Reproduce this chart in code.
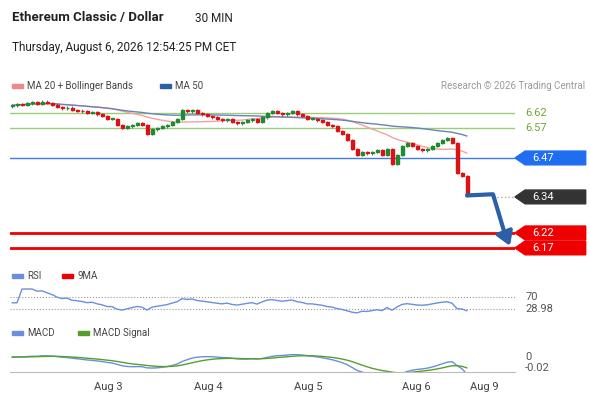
import numpy as np, pandas as pd, seaborn as sns, matplotlib
matplotlib.use("Agg")
import matplotlib.pyplot as plt
from matplotlib.patches import Polygon, Rectangle

closes = [6.645,6.65,6.648,6.652,6.655,6.65,6.658,6.653,6.648,
          6.64,6.635,6.638,6.63,6.628, 6.625,6.62,6.622,6.615, 6.61,6.60,6.6,
          6.58,6.57,6.575,6.58, 6.585,6.58,6.55,6.565,6.57, 6.575,6.58,6.59,6.6,
          6.63,6.625,6.63, 6.62,6.615,6.61,6.605, 6.6,6.595,6.6,6.59,
          6.585,6.59,6.595,6.6, 6.59,6.605,6.62,6.625, 6.62,6.615,6.62,6.625,
          6.615,6.61,6.6,6.6, 6.595,6.59,6.58,6.575, 6.56,6.55,6.53,6.5,
          6.48,6.49,6.485,6.49, 6.495,6.48,6.5,6.45, 6.48,6.51,6.52,6.51,
          6.5,6.495,6.5,6.51, 6.52,6.53,6.535,6.52, 6.42,6.41,6.345]
levels = [6.62, 6.57]
support_levels = [6.22, 6.17]
pivot = 6.47
last = 6.34
day_labels = ["Aug 3", "Aug 4", "Aug 5", "Aug 6", "Aug 9"]
day_pos = [19.2, 39.2, 59.2, 80.8, 94.4]

sns.set_style("white")
plt.rcParams['font.family'] = ['Roboto', 'DejaVu Sans']

c = pd.Series(closes)
o = c.shift(1).fillna(c.iloc[0] - 0.003)
idx = np.arange(len(c))
df = pd.DataFrame({"i": idx, "c": c, "ma20": c.rolling(20, min_periods=1).mean(),
                   "ma50": c.rolling(50, min_periods=1).mean()})

fig = plt.figure(figsize=(5.9, 4.0), dpi=100)
W, H = 590, 400
def ax_px(x0, y0, x1, y1):
    return fig.add_axes([x0/W, 1-y1/H, (x1-x0)/W, (y1-y0)/H])

ax = ax_px(10, 95, 515, 262)
ax.set_xlim(-0.4, 100.6); ax.set_ylim(6.123, 6.68)
for s in ax.spines.values(): s.set_visible(False)
ax.set_xticks([]); ax.set_yticks([])
for lv in levels:
    ax.axhline(lv, color="#9ccc7a", lw=1)
ax.axhline(pivot, color="#3d7be8", lw=1)
for lv in support_levels:
    ax.axhline(lv, color="#ee0000", lw=2)
sns.lineplot(data=df, x="i", y="ma20", ax=ax, color="#f4a0a0", lw=1)
sns.lineplot(data=df, x="i", y="ma50", ax=ax, color="#6a83b8", lw=1)
for i in idx:
    up = c[i] >= o[i]
    col = "#1e8c2e" if up else "#dd1111"
    lo, hi = min(o[i], c[i]), max(o[i], c[i])
    ax.vlines(i, lo - 0.004, hi + 0.004, color="#555", lw=0.6)
    ax.add_patch(Rectangle((i-0.3, lo), 0.6, max(hi-lo, 0.002), color=col, zorder=3))
ax.plot([len(c)-1, 96.2, 98.6], [c.iloc[-1], c.iloc[-1]+0.004, 6.215], color="#2b5fa8", lw=3, zorder=4)
ax.annotate("", xy=(99.8, 6.168), xytext=(98.3, 6.23),
            arrowprops=dict(arrowstyle="-|>,head_width=0.5,head_length=0.8", color="#2b5fa8", lw=3))
ax.plot([97, 100.6], [last, last], ls=":", color="#aaa", lw=1)
for lv in levels:
    ax.text(1.02, lv, f"{lv:.2f}", transform=ax.get_yaxis_transform(), color="#6aa834",
            fontsize=8, va="center")
def tag(y, col, txt):
    tr = ax.get_yaxis_transform()
    dy = 0.023
    poly = Polygon([(1.0, y), (1.02, y+dy), (1.14, y+dy), (1.14, y-dy), (1.02, y-dy)],
                   closed=True, transform=tr, color=col, clip_on=False)
    ax.add_patch(poly)
    ax.text(1.035, y, txt, transform=tr, color="white", fontsize=8, va="center")
tag(pivot, "#1f6ef0", f"{pivot:.2f}")
tag(last, "#333333", f"{last:.2f}")
for lv in support_levels:
    tag(lv, "#ee0000", f"{lv:.2f}")

# RSI
d = c.diff()
g = d.clip(lower=0).ewm(alpha=1/14, adjust=False).mean()
l = (-d.clip(upper=0)).ewm(alpha=1/14, adjust=False).mean()
rsi = 100 - 100/(1 + g/l.replace(0, np.nan))
rsi = rsi.fillna(50)
ax2 = ax_px(10, 285, 515, 318)
ax2.set_xlim(-0.4, 100.6); ax2.set_ylim(-2, 111)
for s in ax2.spines.values(): s.set_visible(False)
ax2.set_xticks([]); ax2.set_yticks([])
ax2.axhline(70, color="#999", ls=":", lw=0.8); ax2.axhline(28.98, color="#999", ls=":", lw=0.8)
sns.lineplot(x=idx, y=rsi.values, ax=ax2, color="#6a8fdc", lw=1)
ax2.text(1.02, 70, "70", transform=ax2.get_yaxis_transform(), fontsize=8, color="#555", va="center")
ax2.text(1.02, 28.98, "28.98", transform=ax2.get_yaxis_transform(), fontsize=8, color="#555", va="center")

# MACD
macd = c.ewm(span=12, adjust=False).mean() - c.ewm(span=26, adjust=False).mean()
sig = macd.ewm(span=9, adjust=False).mean()
ax3 = ax_px(10, 340, 515, 372)
ax3.set_xlim(-0.4, 100.6); ax3.set_ylim(-0.027, 0.031)
for k, s in ax3.spines.items(): s.set_visible(k == "bottom")
ax3.spines["bottom"].set_color("#bbb")
sns.lineplot(x=idx, y=macd.values, ax=ax3, color="#6a8fdc", lw=1)
sns.lineplot(x=idx, y=sig.values, ax=ax3, color="#55a02a", lw=1)
ax3.set_yticks([])
ax3.set_xticks(day_pos); ax3.set_xticklabels(day_labels, fontsize=8, color="#444")
ax3.tick_params(axis="x", length=4, color="#bbb", pad=3)
ax3.text(1.02, 0, "0", transform=ax3.get_yaxis_transform(), fontsize=8, color="#555", va="center")
ax3.text(1.02, -0.02, "-0.02", transform=ax3.get_yaxis_transform(), fontsize=8, color="#555", va="center")

# header/legends
def ft(x, y, s, **kw): fig.text(x/W, 1-y/H, s, va="center", **kw)
ft(12, 18, "Ethereum Classic / Dollar", fontsize=9.5, fontweight="bold", color="#222")
ft(195, 18, "30 MIN", fontsize=8.5, color="#222")
ft(12, 48, "Thursday, August 6, 2026 12:54:25 PM CET", fontsize=8.5, color="#222")
def leg(x, y, col, s):
    fig.patches.append(Rectangle((x/W, 1-(y+2)/H), 11/W, 4/H, color=col, transform=fig.transFigure))
    ft(x+15, y, s, fontsize=7, color="#444")
leg(12, 86, "#f08888", "MA 20 + Bollinger Bands"); leg(160, 86, "#2b5fa8", "MA 50")
ft(585, 86, "Research © 2026 Trading Central", fontsize=7, color="#999", ha="right")
leg(12, 276, "#6a8fdc", "RSI"); leg(62, 276, "#ee0000", "9MA")
leg(12, 333, "#6a8fdc", "MACD"); leg(78, 333, "#55a02a", "MACD Signal")
fig.savefig("out.png", dpi=100)
